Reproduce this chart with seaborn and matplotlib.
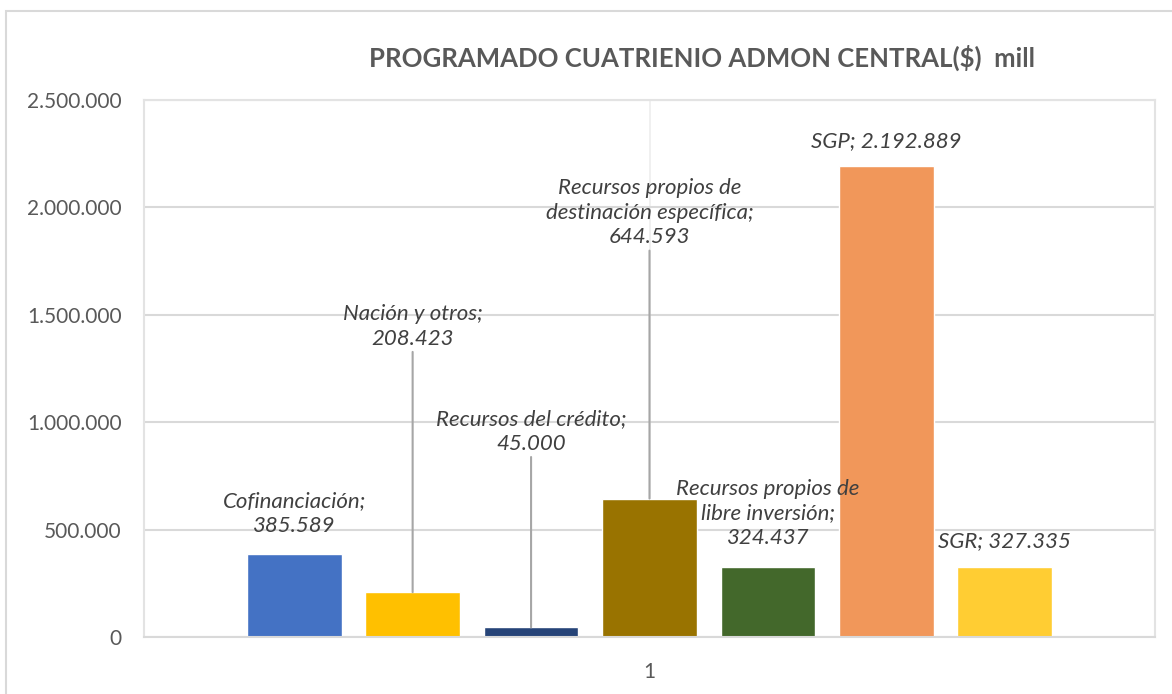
import textwrap
import matplotlib
matplotlib.use("Agg")
import matplotlib.pyplot as plt
from matplotlib.patches import Rectangle
import seaborn as sns
import pandas as pd

# ---- data ----
category = ["1"]
series = ["Cofinanciación", "Nación y otros", "Recursos del crédito",
          "Recursos propios de destinación específica",
          "Recursos propios de libre inversión", "SGP", "SGR"]
values = [385589, 208423, 45000, 644593, 324437, 2192889, 327335]
colors = ["#4472C4", "#FFC000", "#264478", "#997300", "#43682B", "#F1975A", "#FFCD33"]
yticks = [0, 500000, 1000000, 1500000, 2000000, 2500000]
title = "PROGRAMADO CUATRIENIO ADMON CENTRAL($)  mill"

# label placement (pixels above bar top) and leader-line flags
label_offsets = [41, 266, 196, 286, 54, 25, 26]
leader = [False, True, True, True, False, False, False]


def fmt(v):
    return f"{v:,}".replace(",", ".")


def label_text(name, v):
    if len(name) <= 4:
        return f"{name}; {fmt(v)}"
    lines = textwrap.wrap(name + ";", 23)
    return "\n".join(lines + [fmt(v)])


sns.set_theme(style="white")
plt.rcParams["font.family"] = ["Lato", "DejaVu Sans"]

df = pd.DataFrame({"cat": category * len(series), "serie": series, "valor": values})

fig = plt.figure(figsize=(11.72, 6.94), dpi=100)
ax = fig.add_axes([144 / 1172, 1 - 637 / 694, (1155 - 144) / 1172, (637 - 100) / 694])

sns.barplot(data=df, x="cat", y="valor", hue="serie", hue_order=series,
            palette=colors, width=0.82, gap=0.2, saturation=1, legend=False, ax=ax)

ax.set_xlim(-0.5, 0.5)
ax.set_ylim(0, 2500000)
ax.set_yticks(yticks)
ax.set_yticklabels([fmt(t) for t in yticks])
ax.set_xlabel("")
ax.set_ylabel("")
ax.tick_params(axis="both", length=0, labelsize=15, colors="#595959")
ax.tick_params(axis="y", pad=16)
ax.tick_params(axis="x", pad=18)

ax.grid(axis="y", color="#D9D9D9", lw=1.5)
ax.grid(axis="x", color="#EDEDED", lw=1.2)
ax.set_axisbelow(True)
for s in ax.spines.values():
    s.set_visible(True)
    s.set_color("#E3E3E3")
    s.set_linewidth(1.5)
ax.spines["bottom"].set_color("#D9D9D9")

bars = [p for p in ax.patches if p.get_height() > 0][:len(series)]
bars = sorted(bars, key=lambda p: p.get_x())
for p, name, v, off, ld in zip(bars, series, values, label_offsets, leader):
    cx = p.get_x() + p.get_width() / 2
    arrow = dict(arrowstyle="-", color="#A6A6A6", lw=1.5, shrinkA=0, shrinkB=0) if ld else None
    ax.annotate(label_text(name, v), xy=(cx, v), xytext=(0, off),
                textcoords="offset pixels", ha="center", va="center",
                fontsize=16, fontstyle="italic", color="#404040",
                linespacing=1.3, arrowprops=arrow, zorder=5)

fig.text(702 / 1172, 1 - 58 / 694, title, ha="center", va="center",
         fontsize=18.5, fontweight="bold", color="#595959")

fig.patches.append(Rectangle((6 / 1172, -0.05), 1.2, 1 - 11 / 694 + 0.05,
                             transform=fig.transFigure, fill=False,
                             edgecolor="#D9D9D9", lw=1.5))

fig.savefig("out.png", dpi=100)
